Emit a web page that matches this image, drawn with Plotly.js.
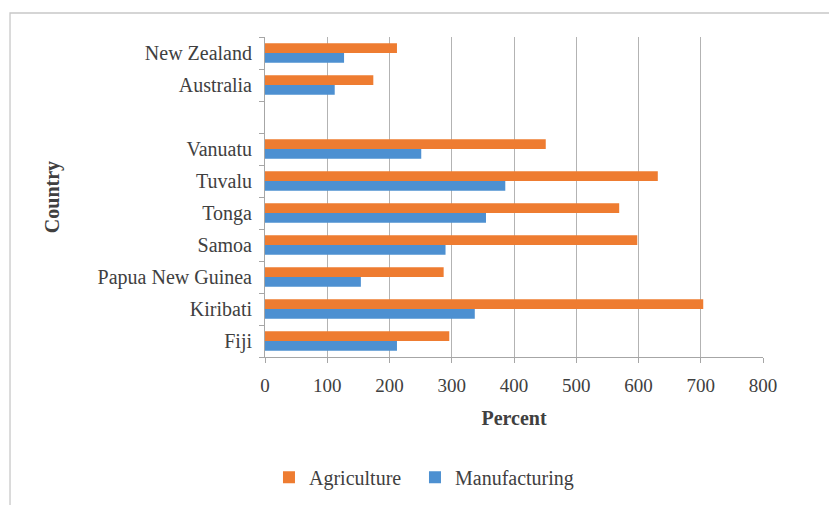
<!DOCTYPE html>
<html>
<head>
<meta charset="utf-8">
<script src="https://cdn.plot.ly/plotly-3.0.1.min.js"></script>
<style>
  html, body { margin: 0; padding: 0; background: #fff; }
  #chart { width: 829px; height: 505px; }
</style>
</head>
<body>
<div id="chart"></div>
<script>
// Countries listed bottom to top; the blank entry separates the Pacific islands from AU/NZ
const countries = ["Fiji", "Kiribati", "Papua New Guinea", "Samoa", "Tonga", "Tuvalu", "Vanuatu", " ", "Australia", "New Zealand"];
const agriculture = [296, 704, 287, 598, 569, 631, 451, null, 174, 212];
const manufacturing = [212, 337, 154, 290, 355, 386, 251, null, 112, 127];
const xTicks = [0, 100, 200, 300, 400, 500, 600, 700, 800];

const serif = "Liberation Serif, Times New Roman, serif";
const textColor = "#404040";

const traces = [
  {
    type: "bar", orientation: "h", name: "Manufacturing",
    y: countries, x: manufacturing,
    marker: { color: "#4d90d1" }
  },
  {
    type: "bar", orientation: "h", name: "Agriculture",
    y: countries, x: agriculture,
    marker: { color: "#ee7c31" },
    legendwidth: 101
  }
];

const layout = {
  width: 829, height: 505,
  margin: { l: 265, r: 66, t: 37, b: 148, autoexpand: false },
  paper_bgcolor: "#fff", plot_bgcolor: "#fff",
  barmode: "group", bargap: 0.39, bargroupgap: 0,
  font: { family: serif, size: 19, color: textColor },
  showlegend: true,
  legend: {
    orientation: "h", traceorder: "reversed",
    x: 0.008, xanchor: "left", y: -0.376, yanchor: "middle",
    font: { family: serif, size: 20, color: textColor },
    itemwidth: 30
  },
  xaxis: {
    range: [0, 800], tickvals: xTicks, ticktext: xTicks.map(String),
    showgrid: true, gridcolor: "#b3b3b3", gridwidth: 1,
    zeroline: false, showline: true, linecolor: "#a6a6a6", linewidth: 1,
    ticks: "outside", ticklen: 5, tickcolor: "#a6a6a6",
    ticklabelstandoff: 6,
    tickfont: { family: serif, size: 19, color: textColor },
    title: { text: "<b>Percent</b>", font: { family: serif, size: 20, color: textColor }, standoff: 16 },
    fixedrange: true
  },
  yaxis: {
    type: "category", categoryorder: "array", categoryarray: countries,
    showgrid: false, zeroline: false,
    showline: true, linecolor: "#a6a6a6", linewidth: 1,
    ticks: "outside", ticklen: 5, tickcolor: "#a6a6a6", tickson: "boundaries",
    ticklabelstandoff: 8,
    tickfont: { family: serif, size: 20, color: textColor },
    title: { text: "<b>Country</b>", font: { family: serif, size: 20, color: textColor }, standoff: 32 },
    fixedrange: true
  },
  shapes: [
    {
      type: "rect", xref: "paper", yref: "paper",
      x0: -0.512, x1: 1.3, y0: -0.6, y1: 1.075,
      line: { color: "#c8c8c8", width: 1.3 }, fillcolor: "rgba(0,0,0,0)", layer: "below"
    }
  ]
};

Plotly.newPlot("chart", traces, layout, { displayModeBar: false, staticPlot: true });
</script>
</body>
</html>
